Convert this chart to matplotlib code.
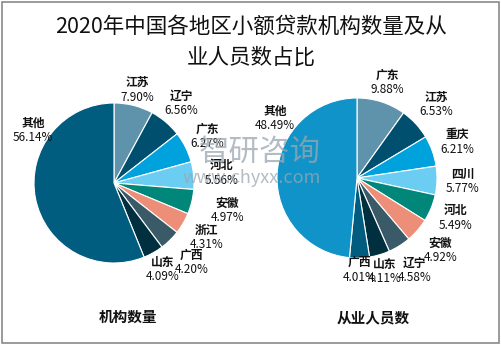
import matplotlib
matplotlib.use("Agg")
import matplotlib.pyplot as plt
from matplotlib.patches import Rectangle
import numpy as np

plt.rcParams['font.family'] = ['Noto Sans CJK SC', 'DejaVu Sans']

title = "2020年中国各地区小额贷款机构数量及从\n业人员数占比"

left_labels = ["江苏", "辽宁", "广东", "河北", "安徽", "浙江", "广西", "山东", "其他"]
left_values = [7.90, 6.56, 6.27, 5.56, 4.97, 4.31, 4.20, 4.09, 56.14]
left_colors = ["#5E93AB", "#004F6E", "#00A2DD", "#6CCDF3", "#00877A",
               "#ED8F78", "#3B5A67", "#00303F", "#005D80"]
left_name = "机构数量"

right_labels = ["广东", "江苏", "重庆", "四川", "河北", "安徽", "辽宁", "山东", "广西", "其他"]
right_values = [9.88, 6.53, 6.21, 5.77, 5.49, 4.92, 4.58, 4.11, 4.01, 48.49]
right_colors = ["#5E93AB", "#004F6E", "#00A2DD", "#6CCDF3", "#00877A",
                "#ED8F78", "#3B5A67", "#00303F", "#005D80", "#0F93C9"]
right_name = "从业人员数"

W, H = 502, 345
fig = plt.figure(figsize=(W / 100, H / 100), dpi=100)
fig.patches.append(Rectangle((2 / W, 2 / H), 497 / W, 341 / H, transform=fig.transFigure,
                             fill=False, edgecolor="#8A8A8A", linewidth=1.2))

fig.text(251 / W, 1 - 42 / H, title, ha="center", va="center", fontsize=15.5,
         linespacing=1.55, color="#111111")


def draw(cx, cy, r, labels, values, colors, name, nx, ny, dists, ang_override):
    ax = fig.add_axes([(cx - r) / W, 1 - (cy + r) / H, 2 * r / W, 2 * r / H])
    wedges, _ = ax.pie(values, colors=colors, startangle=90, counterclock=False,
                       wedgeprops=dict(linewidth=0.8, edgecolor="white"))
    ax.set_xlim(-1, 1)
    ax.set_ylim(-1, 1)
    ax.set_aspect("auto")
    for i, (w, lab, v, d) in enumerate(zip(wedges, labels, values, dists)):
        deg = ang_override.get(i, (w.theta1 + w.theta2) / 2)
        ang = np.deg2rad(deg)
        x, y = d * np.cos(ang), d * np.sin(ang)
        ax.text(x, y + 0.09, lab, ha="center", va="center", fontsize=8.5,
                fontweight="bold", color="#111111")
        ax.text(x, y - 0.09, f"{v:.2f}%", ha="center", va="center", fontsize=8.5,
                color="#111111")
    fig.text(nx / W, 1 - ny / H, name, ha="center", va="center", fontsize=10.5,
             fontweight="bold", color="#111111")
    return ax


draw(114, 183, 80, left_labels, left_values, left_colors, left_name, 128, 317,
     [1.2, 1.31, 1.3, 1.35, 1.46, 1.34, 1.39, 1.24, 1.21], {8: 147})
draw(357, 178, 80, right_labels, right_values, right_colors, right_name, 373, 317,
     [1.25, 1.35, 1.33, 1.32, 1.33, 1.38, 1.36, 1.22, 1.15, 1.27], {9: 144})

# watermark
fig.text(260 / W, 1 - 152 / H, "智研咨询", ha="center", va="center", fontsize=22,
         color="#9AA6B0", alpha=0.75, zorder=10)
fig.text(252 / W, 1 - 178 / H, "www.chyxx.com", ha="center", va="center", fontsize=13,
         color="#9AA6B0", alpha=0.75, zorder=10)

fig.savefig("out.png", dpi=100, facecolor="white")
